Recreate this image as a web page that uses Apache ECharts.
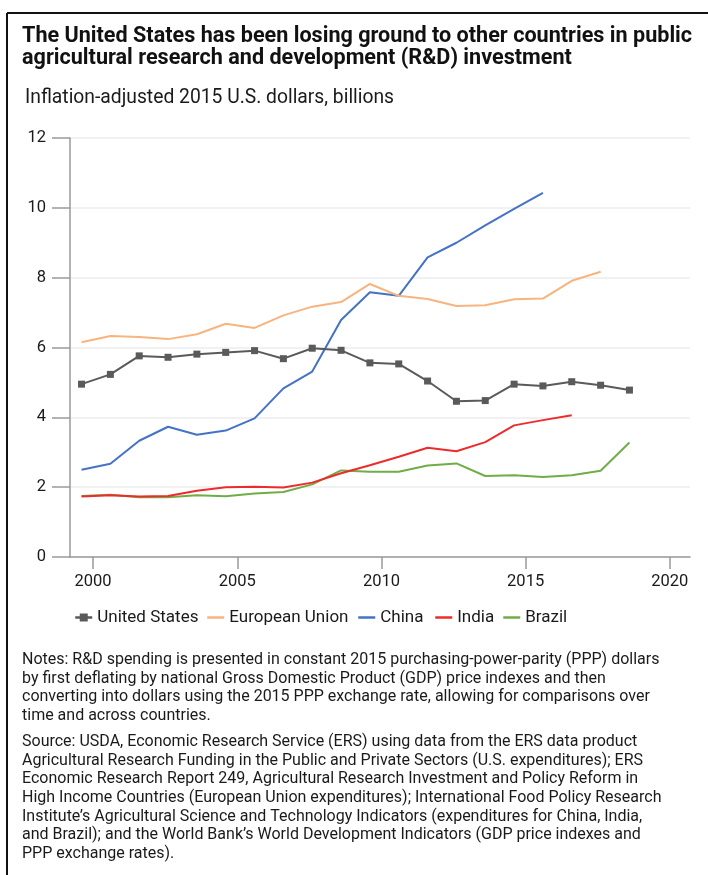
<!DOCTYPE html>
<html>
<head>
<meta charset="utf-8">
<script src="https://cdn.jsdelivr.net/npm/echarts@6/dist/echarts.min.js"></script>
<style>
  html, body { margin: 0; padding: 0; background: #fff; }
  #chart { width: 708px; height: 875px; }
</style>
</head>
<body>
<div id="chart"></div>
<script>
// ---- Data ----
const titleText = 'The United States has been losing ground to other countries in public\nagricultural research and development (R&D) investment';
const subtitleText = 'Inflation-adjusted 2015 U.S. dollars, billions';
const seriesNames = ['United States', 'European Union', 'China', 'India', 'Brazil'];
// x positions of the observations as plotted on the year axis
const years = [1999.6, 2000.6, 2001.6, 2002.6, 2003.6, 2004.6, 2005.6, 2006.6, 2007.6, 2008.6,
               2009.6, 2010.6, 2011.6, 2012.6, 2013.6, 2014.6, 2015.6, 2016.6, 2017.6, 2018.6];
const usValues = [4.95, 5.23, 5.76, 5.72, 5.81, 5.86, 5.91, 5.68, 5.98, 5.92,
                  5.56, 5.53, 5.04, 4.46, 4.48, 4.95, 4.90, 5.02, 4.92, 4.78];
const euValues = [6.15, 6.33, 6.30, 6.24, 6.38, 6.68, 6.56, 6.92, 7.17, 7.30,
                  7.82, 7.48, 7.39, 7.19, 7.21, 7.38, 7.40, 7.91, 8.17];
const chinaValues = [2.50, 2.67, 3.33, 3.73, 3.50, 3.62, 3.97, 4.83, 5.31, 6.79,
                     7.58, 7.48, 8.58, 9.00, 9.50, 9.97, 10.43];
const indiaValues = [1.73, 1.77, 1.73, 1.75, 1.90, 2.00, 2.01, 1.99, 2.13, 2.40,
                     2.63, 2.87, 3.13, 3.03, 3.29, 3.77, 3.92, 4.06];
const brazilValues = [1.75, 1.78, 1.71, 1.71, 1.77, 1.74, 1.82, 1.86, 2.08, 2.48,
                      2.44, 2.44, 2.62, 2.68, 2.32, 2.34, 2.29, 2.34, 2.47, 3.28];
const xTickValues = [2000, 2005, 2010, 2015, 2020];
const notesLines = [
  'Notes: R&D spending is presented in constant 2015 purchasing-power-parity (PPP) dollars',
  'by first deflating by national Gross Domestic Product (GDP) price indexes and then',
  'converting into dollars using the 2015 PPP exchange rate, allowing for comparisons over',
  'time and across countries.'
];
const sourceLines = [
  'Source: USDA, Economic Research Service (ERS) using data from the ERS data product',
  'Agricultural Research Funding in the Public and Private Sectors (U.S. expenditures); ERS',
  'Economic Research Report 249, Agricultural Research Investment and Policy Reform in',
  'High Income Countries (European Union expenditures); International Food Policy Research',
  'Institute\u2019s Agricultural Science and Technology Indicators (expenditures for China, India,',
  'and Brazil); and the World Bank\u2019s World Development Indicators (GDP price indexes and',
  'PPP exchange rates).'
];

// ---- Styles ----
const FONT = 'Roboto, "Noto Sans", sans-serif';
const TEXT = '#1a1a1a';
const colors = ['#5a5a5a', '#F7B47F', '#4472C4', '#EE2B2B', '#70AD47'];
const allValues = [usValues, euValues, chinaValues, indiaValues, brazilValues];
const legendLeft = [74, 206, 357, 434, 502];

function pairs(vals) { return vals.map((v, i) => [years[i], v]); }

const chart = echarts.init(document.getElementById('chart'), null, { renderer: 'canvas' });

const graphics = [
  { type: 'line', shape: { x1: 7, y1: 13, x2: 708, y2: 13 }, style: { stroke: '#111', lineWidth: 2 } },
  { type: 'line', shape: { x1: 7, y1: 13, x2: 7, y2: 875 }, style: { stroke: '#111', lineWidth: 2 } }
];
notesLines.forEach((t, i) => graphics.push({
  type: 'text',
  style: { x: 22, y: 660 + i * 18.67, text: t, fontFamily: FONT, fontSize: 16.0, fill: TEXT,
           verticalAlign: 'middle', align: 'left' }
}));
sourceLines.forEach((t, i) => graphics.push({
  type: 'text',
  style: { x: 22, y: 742 + i * 18.67, text: t, fontFamily: FONT, fontSize: 16.0, fill: TEXT,
           verticalAlign: 'middle', align: 'left' }
}));

const option = {
  backgroundColor: '#fff',
  animation: false,
  title: [
    { text: titleText, left: 22, top: 26, padding: 0,
      textStyle: { fontFamily: FONT, fontWeight: 'bold', fontSize: 21.6, lineHeight: 22, color: '#111' } },
    { text: subtitleText, left: 25, top: 88, padding: 0,
      textStyle: { fontFamily: FONT, fontWeight: 'normal', fontSize: 19.3, lineHeight: 20, color: TEXT } }
  ],
  legend: seriesNames.map((name, k) => ({
    left: legendLeft[k], top: 609, padding: 0,
    itemWidth: 17, itemHeight: 10,
    textStyle: { fontFamily: FONT, fontSize: 17, color: TEXT },
    itemStyle: k === 0 ? {} : { opacity: 0 },
    lineStyle: { width: 2.5 },
    data: [name]
  })),
  grid: { left: 70, right: 18, top: 138, bottom: 318, containLabel: false },
  xAxis: {
    type: 'value', min: 1999.2, max: 2020.7,
    axisLine: { show: true, lineStyle: { color: '#9a9a9a', width: 1.5 } },
    axisTick: { show: true, length: 12, customValues: xTickValues, lineStyle: { color: '#9a9a9a', width: 1.5 } },
    axisLabel: { customValues: xTickValues, margin: 16, fontFamily: FONT, fontSize: 16.5, color: TEXT,
                 formatter: v => String(Math.round(v)) },
    splitLine: { show: false }
  },
  yAxis: {
    type: 'value', min: 0, max: 12, interval: 2,
    axisLine: { show: true, lineStyle: { color: '#9a9a9a', width: 1.5 } },
    axisTick: { show: true, length: 18, lineStyle: { color: '#9a9a9a', width: 1.5 } },
    axisLabel: { margin: 24, fontFamily: FONT, fontSize: 16.5, color: TEXT },
    splitLine: { show: true, lineStyle: { color: '#ececec', width: 1.5 } }
  },
  series: seriesNames.map((name, k) => ({
    name, type: 'line', data: pairs(allValues[k]),
    color: colors[k],
    symbol: k === 0 ? 'rect' : 'none',
    symbolSize: 7,
    showSymbol: k === 0,
    lineStyle: { width: 2, color: colors[k] },
    itemStyle: { color: colors[k] },
    z: 10 - k
  })),
  graphic: graphics
};
chart.setOption(option);
</script>
</body>
</html>
